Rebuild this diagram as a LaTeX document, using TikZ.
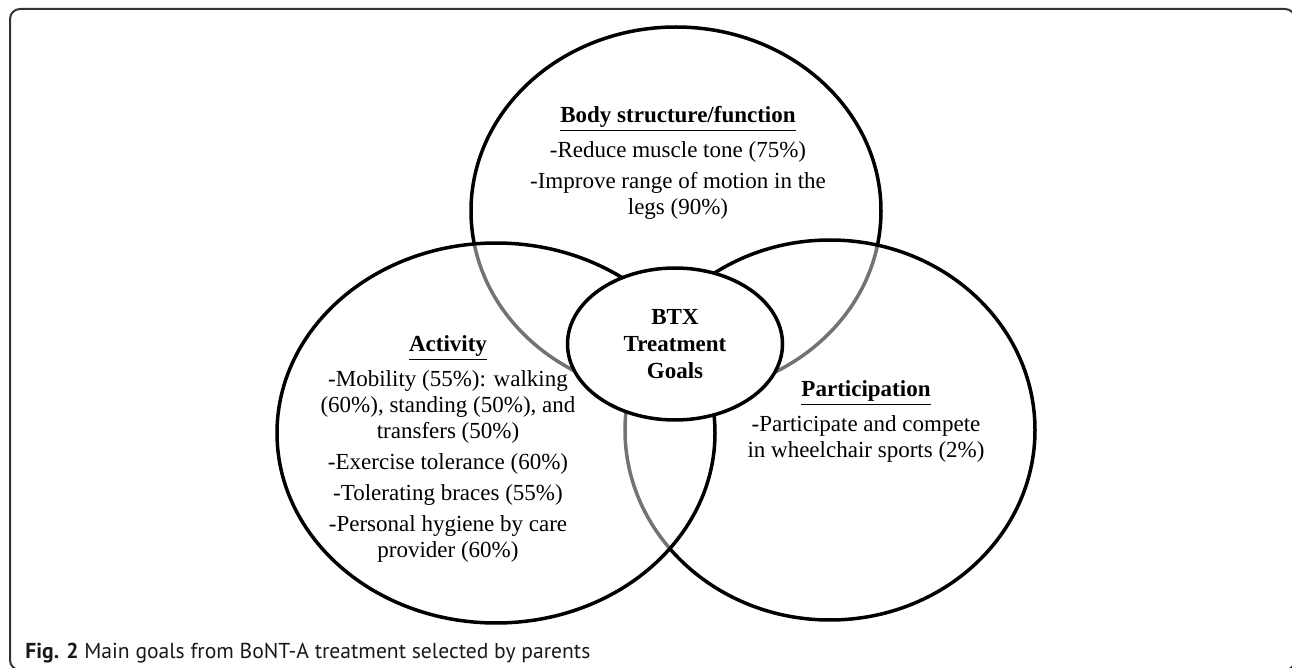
\documentclass[tikz,border=0pt]{standalone}
\usepackage{fontspec}
\setmainfont{Liberation Serif}
\newfontfamily\capfont{PT Sans}
\usetikzlibrary{shapes.geometric}
\tikzset{
  venn/.style={ellipse, draw=black, line width=1.75pt, fill=white, fill opacity=0.45, inner sep=0pt},
  goal/.style={align=center, inner sep=0pt, anchor=north, font=\fontsize{11.5}{13}\selectfont},
}
\begin{document}
\begin{tikzpicture}[x=0.5pt,y=-0.5pt]
\useasboundingbox (0,0) rectangle (1292,668);
\draw [line width=1pt, color=black!80, rounded corners=5pt] (10,9) rectangle (1295,670);
\node [venn, minimum width=205pt, minimum height=184pt] (body) at (676,211) {};
\node [venn, minimum width=205pt, minimum height=190pt] (part) at (830,430) {};
\node [venn, minimum width=219pt, minimum height=190pt] (act) at (496,433) {};
\node [venn, fill opacity=1, minimum width=107.5pt, minimum height=76pt, align=center,
  font=\bfseries\fontsize{11.5}{13.5}\selectfont] (core) at (675,344) {BTX\\Treatment\\Goals};
\node [goal] (bodytxt) at (678,106) {\underline{\textbf{Body structure/function}}\\[4.5pt]
-Reduce muscle tone (75\%)\\[2.5pt]
-Improve range of motion in the\\
legs (90\%)};
\node [goal] (acttxt) at (448,335) {\underline{\textbf{Activity}}\\[4.5pt]
-Mobility (55\%): walking\\
(60\%), standing (50\%), and\\
transfers (50\%)\\[2.5pt]
-Exercise tolerance (60\%)\\[2.5pt]
-Tolerating braces (55\%)\\[2.5pt]
-Personal hygiene by care\\
provider (60\%)};
\node [goal] (parttxt) at (866,380) {\underline{\textbf{Participation}}\\[4.5pt]
-Participate and compete\\
in wheelchair sports (2\%)};
\node [anchor=base west, inner sep=0pt, color=black!90, font=\capfont\fontsize{10.8}{12}\selectfont] (cap) at (25,658)
  {\textbf{Fig. 2} Main goals from BoNT-A treatment selected by parents};
\end{tikzpicture}
\end{document}
